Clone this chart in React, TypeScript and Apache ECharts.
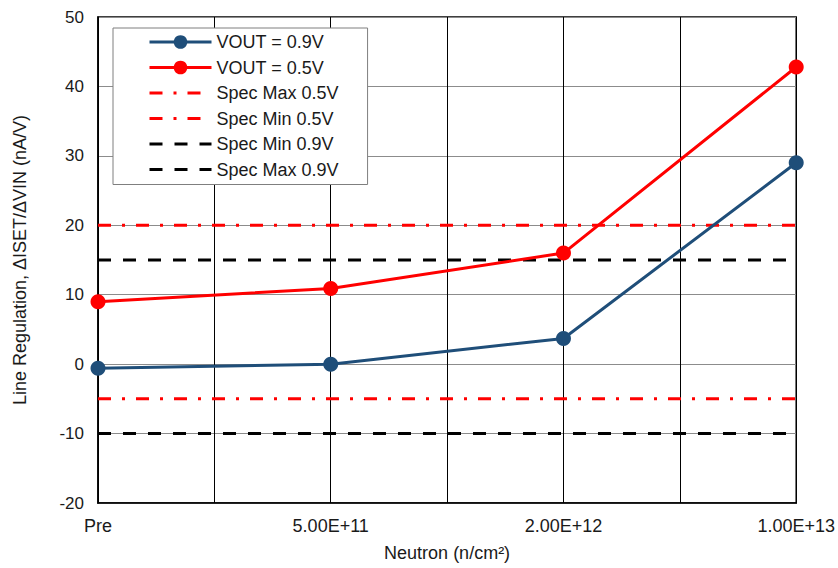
import React, { useEffect, useRef } from "react";
import * as echarts from "echarts";

const categories = ["Pre", "5.00E+11", "2.00E+12", "1.00E+13"];
const vout09 = [-0.6, 0.0, 3.7, 29.0];
const vout05 = [9.0, 10.9, 16.0, 42.8];
const specMax05 = 20;
const specMin05 = -5;
const specMin09 = -10;
const specMax09 = 15;
const yTicks = { min: -20, max: 50, interval: 10 };

const FONT = "'Liberation Sans', Arial, sans-serif";
const TEXT = "#1a1a1a";
const BLUE = "#1F4E79";
const RED = "#FF0000";

export default function App() {
  const ref = useRef<HTMLDivElement>(null);
  useEffect(() => {
    if (!ref.current) return;
    const chart = echarts.init(ref.current, null, { renderer: "svg" });
    const lastIdx = categories.length - 1;
    const flat = (v: number) => [
      [0, v],
      [lastIdx, v],
    ];
    const noSym = { color: "transparent", borderWidth: 0, opacity: 0 };
    const option: any = {
      animation: false,
      textStyle: { fontFamily: FONT, color: TEXT },
      grid: {
        left: 98,
        top: 17,
        right: 40,
        bottom: 65,
        show: true,
        borderColor: "#000",
        borderWidth: 1.5,
        backgroundColor: "#fff",
      },
      legend: {
        orient: "vertical",
        left: 113,
        top: 28,
        backgroundColor: "#fff",
        borderColor: "#7f7f7f",
        borderWidth: 1,
        borderRadius: 0,
        padding: [5, 29, 6, 35],
        itemWidth: 62,
        itemHeight: 17,
        itemGap: 7.5,
        lineStyle: { width: 3 },
        textStyle: { fontSize: 18, color: TEXT, fontFamily: FONT },
        data: [
          { name: "VOUT = 0.9V" },
          { name: "VOUT = 0.5V" },
          { name: "Spec Max 0.5V", itemStyle: noSym },
          { name: "Spec Min 0.5V", itemStyle: noSym },
          { name: "Spec Min 0.9V", itemStyle: noSym },
          { name: "Spec Max 0.9V", itemStyle: noSym },
        ],
      },
      xAxis: {
        type: "value",
        min: 0,
        max: lastIdx,
        interval: 0.5,
        name: "Neutron (n/cm²)",
        nameLocation: "middle",
        nameGap: 41,
        nameTextStyle: { fontSize: 18, color: TEXT, fontFamily: FONT },
        axisLine: {
          show: true,
          onZero: false,
          lineStyle: { color: "#000", width: 1.5 },
        },
        axisTick: { show: false },
        axisLabel: {
          fontSize: 18,
          color: TEXT,
          margin: 14,
          formatter: (v: number) =>
            Number.isInteger(v) ? categories[v] ?? "" : "",
        },
        splitLine: { show: true, lineStyle: { color: "#000", width: 1 } },
      },
      yAxis: {
        type: "value",
        min: yTicks.min,
        max: yTicks.max,
        interval: yTicks.interval,
        name: "Line Regulation, ΔISET/ΔVIN (nA/V)",
        nameLocation: "middle",
        nameGap: 69,
        nameTextStyle: { fontSize: 18, color: TEXT, fontFamily: FONT },
        axisLine: {
          show: true,
          onZero: false,
          lineStyle: { color: "#000", width: 1.5 },
        },
        axisTick: { show: false },
        axisLabel: { fontSize: 17, color: TEXT, margin: 14 },
        splitLine: { show: true, lineStyle: { color: "#8c8c8c", width: 1 } },
      },
      series: [
        {
          name: "Spec Max 0.5V",
          type: "line",
          data: flat(specMax05),
          symbol: "none",
          lineStyle: { color: RED, width: 3, type: [13, 11, 3, 11] },
          itemStyle: { color: RED },
        },
        {
          name: "Spec Min 0.5V",
          type: "line",
          data: flat(specMin05),
          symbol: "none",
          lineStyle: { color: RED, width: 3, type: [13, 11, 3, 11] },
          itemStyle: { color: RED },
        },
        {
          name: "Spec Min 0.9V",
          type: "line",
          data: flat(specMin09),
          symbol: "none",
          lineStyle: { color: "#000", width: 3, type: [13, 12] },
          itemStyle: { color: "#000" },
        },
        {
          name: "Spec Max 0.9V",
          type: "line",
          data: flat(specMax09),
          symbol: "none",
          lineStyle: { color: "#000", width: 3, type: [13, 12] },
          itemStyle: { color: "#000" },
        },
        {
          name: "VOUT = 0.9V",
          type: "line",
          data: vout09.map((v, i) => [i, v]),
          symbol: "circle",
          symbolSize: 15,
          lineStyle: { color: BLUE, width: 3 },
          itemStyle: { color: BLUE },
          z: 5,
        },
        {
          name: "VOUT = 0.5V",
          type: "line",
          data: vout05.map((v, i) => [i, v]),
          symbol: "circle",
          symbolSize: 15,
          lineStyle: { color: RED, width: 3 },
          itemStyle: { color: RED },
          z: 5,
        },
      ],
    };
    chart.setOption(option);
    return () => chart.dispose();
  }, []);
  return (
    <div
      ref={ref}
      style={{ position: "absolute", left: 0, top: 0, width: 838, height: 568 }}
    />
  );
}
